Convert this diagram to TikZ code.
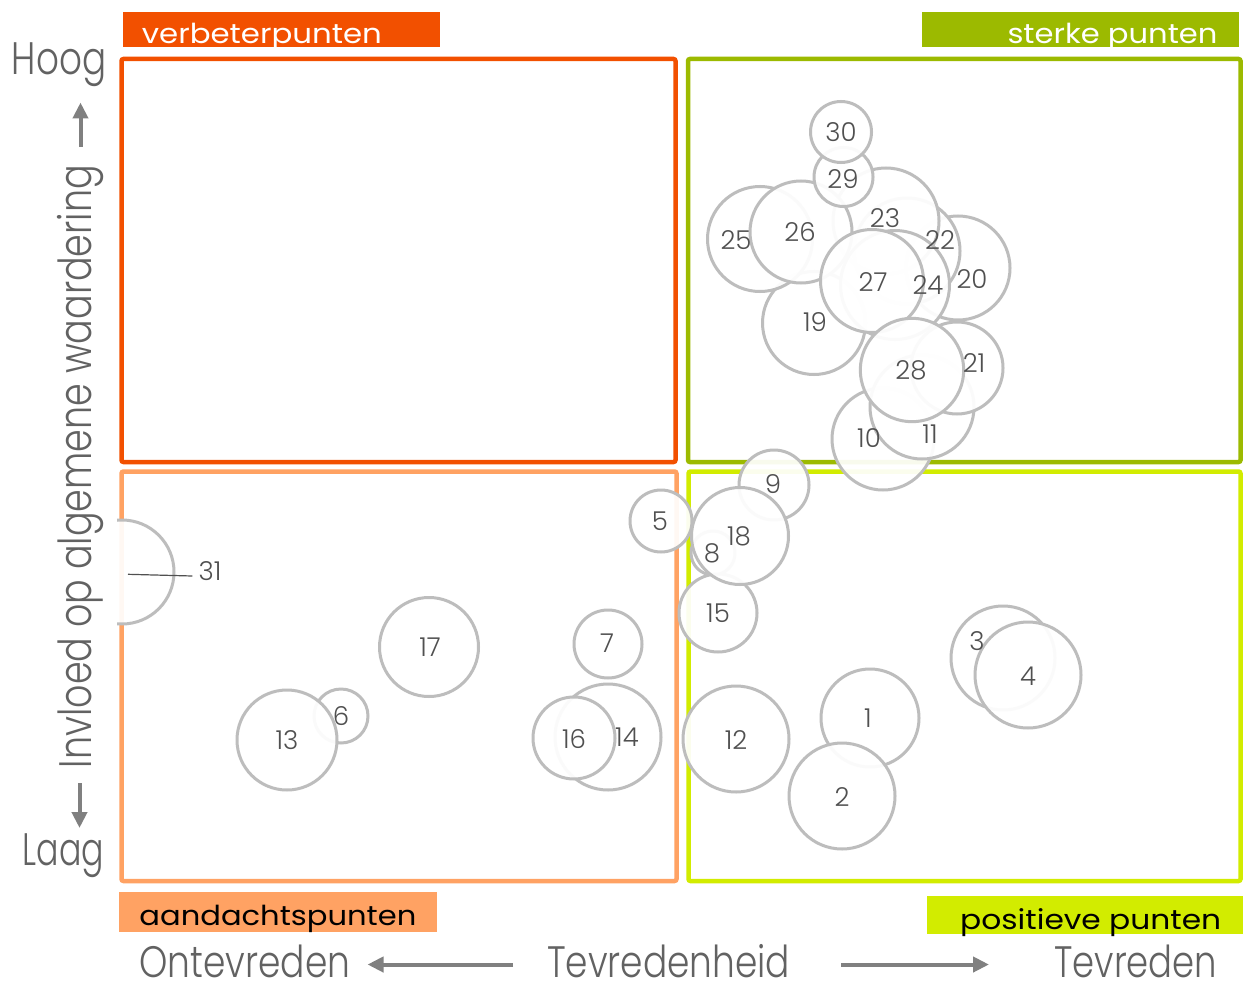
\documentclass[tikz,border=0pt]{standalone}
\usepackage{graphicx}
\usepackage{fontspec}
\setmainfont{Poppins}[UprightFont=* Light]
\newfontfamily\banfamily{Poppins}
\usetikzlibrary{arrows.meta}

% quadrant colours
\definecolor{qred}{HTML}{F25000}
\definecolor{qgreen}{HTML}{9CBA00}
\definecolor{qorange}{HTML}{FFA263}
\definecolor{qlime}{HTML}{D2EC00}
\definecolor{bubline}{HTML}{BDBDBD}
\definecolor{numtext}{HTML}{505050}
\definecolor{axistext}{HTML}{626262}
\definecolor{axisarrow}{HTML}{808080}

% set a text at a given width (horizontal scaling only)
\newlength\stretchlen
\newcommand\stretchto[2]{\settowidth\stretchlen{#2}%
  \pgfmathsetmacro\stretchratio{#1/\stretchlen}%
  \scalebox{\stretchratio}[1]{#2}}

\newcommand\bubfont{\fontsize{26}{28}\selectfont}
\newcommand\banfont{\banfamily\fontsize{27.5}{30}\selectfont}
\newcommand\axfont{\fontsize{44}{48}\selectfont}
\newcommand\hlfont{\fontsize{45.5}{50}\selectfont}

\tikzset{
  frame/.style={line width=4.5pt, rounded corners=2pt},
  banner/.style={draw=none, inner sep=0pt, outer sep=0pt, anchor=north west},
  bantext/.style={inner sep=0pt, anchor=base west, font=\banfont},
  bubble/.style={circle, draw=bubline, line width=3pt, fill=white,
    fill opacity=0.93, inner sep=0pt, outer sep=0pt},
  num/.style={inner sep=0pt, text=numtext, font=\bubfont},
  axlabel/.style={inner sep=0pt, anchor=base west, text=axistext, font=\axfont},
  hllabel/.style={inner sep=0pt, anchor=base west, text=axistext, font=\hlfont},
  axarrow/.style={draw=axisarrow, line width=4pt,
    -{Triangle[length=16pt,width=15pt]}},
  leader/.style={draw=numtext, line width=1.2pt}
}

\begin{document}
\begin{tikzpicture}[x=1pt,y=-1pt]
\useasboundingbox (0,0) rectangle (1246,987);
\fill[white] (0,0) rectangle (1246,987);

% quadrant frames
\draw[frame, draw=qred]    (121.5,59)   rectangle (675.5,462);
\draw[frame, draw=qgreen]  (688,59)     rectangle (1240.5,462);
\draw[frame, draw=qorange] (121.5,471.5) rectangle (676.5,881);
\draw[frame, draw=qlime]   (688.5,471.5) rectangle (1240.5,881);

% quadrant banners
\node[banner, fill=qred,    minimum width=317pt, minimum height=35.5pt] (bverb) at (123,12) {};
\node[banner, fill=qgreen,  minimum width=317pt, minimum height=35.5pt] (bsterk) at (922,12) {};
\node[banner, fill=qorange, minimum width=317.4pt, minimum height=39.4pt] (baand) at (119.3,892.3) {};
\node[banner, fill=qlime,   minimum width=315.8pt, minimum height=38pt] (bpos) at (926.8,896) {};

\node[bantext, text=white] (tverb)  at (141.7,43.3) {\stretchto{240}{verbeterpunten}};
\node[bantext, text=white] (tsterk) at (1007.3,43.3) {\stretchto{210}{sterke punten}};
\node[bantext, text=black] (taand)  at (139.2,925.7) {\stretchto{277}{aandachtspunten}};
\node[bantext, text=black] (tpos)   at (960,929) {\stretchto{261}{positieve punten}};

% bubbles, drawn in order so later ones cover earlier ones
\foreach \n/\x/\y/\r in {
  1/870/718/49, 2/842/796/53, 3/1003/658/52, 4/1028/675/53,
  5/661/521/31, 6/341/716/27, 7/608/644/34, 8/713/553/22,
  9/774/485/35, 10/883/439/51, 11/922/407/52, 12/736/739/53,
  13/287/740/50, 14/608/737/53, 15/718/613/39, 16/574/738/41,
  17/429/647/49.5, 18/740/536/48.5, 19/814/323/51.5, 20/958/268/52,
  21/957/368/46, 22/907/251/53, 23/886/221/53, 24/895/285/54.5,
  25/760/239/52.5, 26/801/232/51, 27/872/281/51.5, 28/912/370/51.7,
  29/843.5/177/29.5, 30/841/132/30.5}
  \node[bubble, minimum size={2*\r*1pt}] (b\n) at (\x,\y) {};

% bubble 31 sits on the left edge of the plot area
\begin{scope}
  \clip (117,0) rectangle (1246,987);
  \node[bubble, minimum size=104pt] (b31) at (122,572) {};
\end{scope}

% bubble labels
\foreach \n/\x/\y in {
  1/868/718, 2/842/797, 3/977/641, 4/1028/676, 5/660/521, 6/341/716,
  7/607/643, 8/712/553, 9/773/484, 10/869/438, 11/930/434, 12/736/740,
  13/287/740, 14/627/737, 15/718/613, 16/574/739, 17/430/647, 18/739/536,
  19/815/322, 20/972/279, 21/974/363, 22/940/240, 23/885/218, 24/928/285,
  25/736/240, 26/800/232, 27/873/282, 28/911/370, 29/843/179, 30/841/132,
  31/210/571}
  \node[num] (l\n) at (\x,\y) {\n};

\coordinate (p31) at (128,574.3);
\draw[leader] (p31) -- ([xshift=-6pt,yshift=-5pt]l31.west);

% vertical axis
\node[hllabel] (hoog) at (11.7,75) {\stretchto{94.3}{Hoog}};
\node[hllabel] (laag) at (22.7,865) {\stretchto{81.3}{Laag}};
\node[hllabel, rotate=90] (yaxis) at (91.7,768.3) {\stretchto{603}{Invloed op algemene waardering}};
\coordinate (ua0) at (80.5,147);
\coordinate (ua1) at (80.5,102.5);
\coordinate (da0) at (79.5,783);
\coordinate (da1) at (79.5,828);
\draw[axarrow] (ua0) -- (ua1);
\draw[axarrow] (da0) -- (da1);

% horizontal axis
\node[axlabel] (onte) at (139,977.5) {\stretchto{211}{Ontevreden}};
\node[axlabel] (tevh) at (547,977.5) {\stretchto{243}{Tevredenheid}};
\node[axlabel] (tevr) at (1054,977.5) {\stretchto{163}{Tevreden}};
\coordinate (la0) at (513,964.5);
\coordinate (la1) at (367.5,964.5);
\coordinate (ra0) at (841,964.5);
\coordinate (ra1) at (989,964.5);
\draw[axarrow] (la0) -- (la1);
\draw[axarrow] (ra0) -- (ra1);
\end{tikzpicture}
\end{document}
